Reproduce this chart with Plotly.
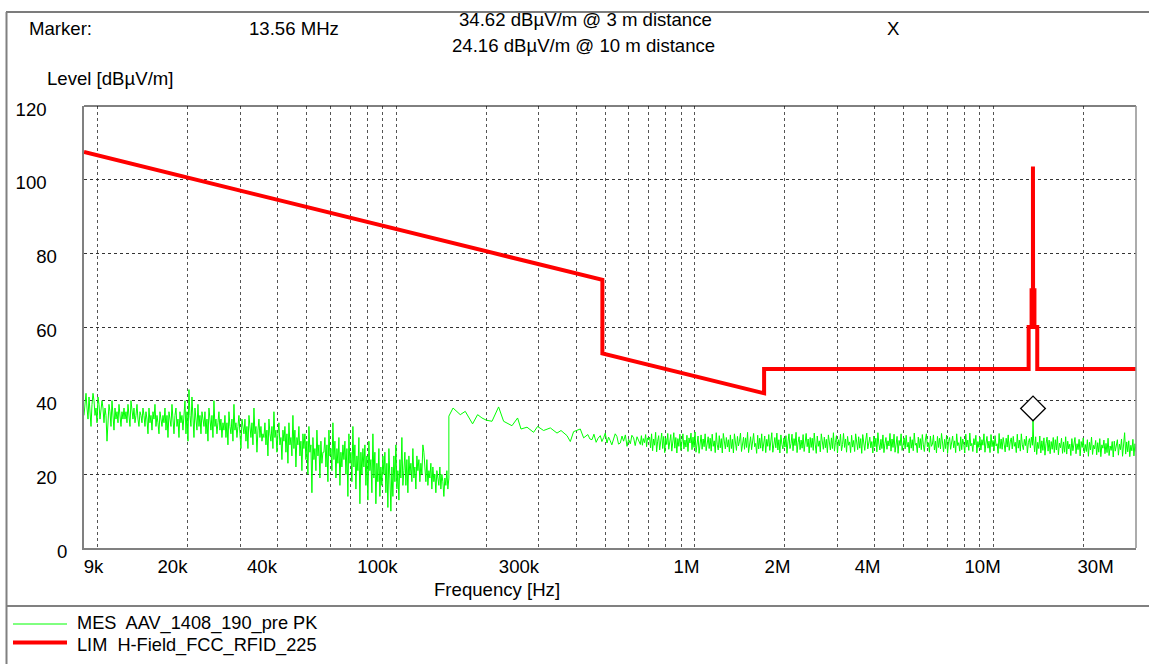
import numpy as np
import plotly.graph_objects as go

# ---------------- data ----------------
# Limit line H-Field_FCC_RFID_225 (frequency in Hz, level in dBuV/m)
lim_freq = [9e3, 490e3, 490e3, 1.705e6, 1.705e6, 13.11e6, 13.11e6, 13.41e6, 13.41e6,
            13.553e6, 13.553e6, 13.567e6, 13.567e6, 13.71e6, 13.71e6, 14.01e6, 14.01e6, 30e6]
lim_level = [107.5, 72.8, 52.8, 42.0, 48.6, 48.6, 60.0, 60.0, 70.0,
             70.0, 103.6, 103.6, 70.0, 70.0, 60.0, 60.0, 48.6, 48.6]

# Measurement trace, band 1 (9 kHz - 150 kHz sweep)
band1_start, band1_stop = 9e3, 150e3
band1_level = [
    36,40,42,38,35,41,37,33,39,42,40,36,38,34,41,39,35,37,40,38,
    34,38,36,29,35,39,37,33,40,36,32,38,35,37,34,39,36,33,37,35,
    38,35,37,34,39,36,33,40,37,35,38,34,36,39,35,33,37,36,34,38,
    36,33,37,35,31,38,34,36,32,37,35,39,33,36,34,31,37,35,33,36,
    34,38,32,36,30,37,35,33,39,34,31,36,38,33,35,30,37,34,36,32,
    35,40,31,37,29,43,36,33,41,34,30,38,35,32,39,33,36,31,37,34,
    33,37,31,35,29,38,34,32,36,30,40,33,35,31,34,37,32,35,30,34,
    32,36,30,34,28,37,33,31,35,29,39,32,34,30,33,36,31,27,35,32,
    31,35,29,33,27,36,32,30,34,28,38,31,33,26,32,35,30,33,29,31,
    30,34,28,32,25,35,31,29,33,27,37,30,32,26,31,34,28,30,24,32,
    29,33,26,31,23,34,28,30,25,36,27,32,22,30,28,33,25,29,21,31,
    27,31,24,29,20,33,26,28,15,30,24,27,21,32,25,28,19,29,23,26,
    26,30,22,28,18,32,25,27,21,34,24,29,19,27,23,30,17,26,22,28,
    24,29,20,27,14,31,23,26,18,33,22,28,16,25,21,30,12,26,20,27,
    22,28,17,25,13,29,21,24,15,31,19,26,12,23,18,27,14,22,17,25,
    20,26,15,23,11,27,19,10,22,14,25,18,28,16,21,13,24,19,30,17,
    21,26,17,24,15,25,20,23,18,27,19,22,16,25,21,24,18,23,20,28,
    26,22,18,24,17,21,19,23,16,22,18,20,15,21,19,17,22,16,20,18,14,19,17,21,16,19,
]

# Measurement trace, band 2 low part (150 kHz - 700 kHz), frequency in kHz
band2a_freq_khz = [150, 154.9, 163.8, 170.2, 180.1, 187.2, 193.6, 200.2, 209.2, 220.1,
                   228.8, 244.0, 254.8, 261.6, 274.0, 288.3, 297.3, 311.4, 328.0, 345.3,
                   356.2, 373.0, 382.6, 392.5, 413.3, 424.0, 438.0, 445.0, 452.3, 459.0,
                   467.0, 474.0, 482.2, 488.0, 495.0, 501.0, 507.7, 514.0, 520.0, 527.0,
                   534.2, 541.0, 548.0, 555.0, 562.6, 570.0, 577.0, 585.0, 592.5, 600.0,
                   608.0, 615.0, 623.4, 631.0, 640.0, 648.0, 656.5, 662.0, 667.0, 672.0,
                   678.0, 684.0, 689.0, 694.0, 699.8]
band2a_level = [35.8, 38.0, 36.2, 37.1, 33.7, 36.2, 35.3, 34.7, 34.4, 38.3,
                34.4, 33.2, 35.3, 32.3, 32.8, 31.4, 33.0, 31.9, 32.6, 31.2,
                31.9, 30.5, 28.9, 31.6, 32.3, 29.9, 30.8, 29.6, 29.4, 30.9,
                28.7, 29.8, 30.5, 28.9, 30.0, 31.2, 28.5, 30.1, 29.2, 28.0,
                29.6, 31.0, 30.3, 28.2, 28.5, 30.4, 29.0, 30.7, 27.6, 29.5,
                28.3, 30.6, 29.9, 27.8, 30.2, 29.0, 28.1, 30.5, 27.9, 29.7,
                28.6, 30.8, 27.5, 29.9, 29.4]

# Measurement trace, band 2 (705 kHz - 13.5 MHz sweep)
band2b_start, band2b_stop = 705e3, 13.5e6
band2b_level = [
    30.1,27.2,31.0,26.4,29.6,27.9,31.4,26.1,29.0,30.5,26.6,28.4,31.2,27.0,30.3,25.9,29.8,28.1,31.1,26.8,
    29.4,30.8,26.3,28.9,31.3,27.1,30.0,25.8,29.7,27.6,30.9,26.5,28.7,31.0,26.9,29.3,27.4,30.6,26.2,29.9,
    28.5,31.2,26.7,30.1,27.3,31.5,26.0,29.2,30.4,25.7,28.8,30.7,26.8,29.6,27.5,31.0,26.4,28.9,30.2,27.0,
    29.8,26.3,30.9,27.6,29.1,25.9,31.3,28.0,26.6,30.5,27.2,29.7,25.8,31.1,28.3,26.9,30.0,27.4,29.4,26.1,
    30.7,27.0,29.5,25.8,31.0,28.2,26.5,30.3,27.7,29.0,31.2,26.2,28.6,30.1,26.8,29.9,27.3,31.4,25.9,28.8,
    30.2,26.7,29.3,31.1,27.5,28.4,25.7,30.6,26.9,29.8,27.1,31.0,26.3,28.7,30.4,25.9,29.5,27.6,30.8,26.5,
    29.1,31.3,26.0,28.5,30.0,27.2,31.2,26.6,29.4,25.8,30.7,28.1,26.9,29.9,27.4,30.5,25.7,28.8,31.0,27.0,
    28.3,30.9,26.4,29.7,27.8,31.4,25.9,28.6,30.2,26.7,29.3,27.1,30.8,26.2,28.9,31.1,27.5,29.6,25.8,30.0,
    27.3,29.8,26.5,31.2,28.0,25.7,30.4,27.6,29.1,26.1,31.0,28.4,26.8,30.1,27.2,29.5,25.9,30.7,28.2,26.6,
    29.9,27.0,31.3,26.3,28.7,30.5,25.8,29.4,27.7,30.9,26.4,28.1,31.1,27.3,29.6,26.0,30.3,27.9,28.8,25.9,
    30.6,27.4,29.2,26.2,31.0,28.5,26.7,30.2,27.1,29.7,25.7,30.8,28.0,26.5,29.3,31.2,26.9,28.6,30.1,27.2,
    28.9,25.8,30.4,27.5,29.8,26.1,31.3,28.2,26.6,29.5,27.0,30.7,25.9,28.4,30.0,26.8,29.1,27.7,31.1,26.3,
    29.6,27.3,30.9,26.0,28.8,30.3,25.7,29.2,27.8,31.0,26.5,28.3,29.9,26.9,30.6,27.4,28.7,25.8,30.2,27.1,
    29.4,26.4,31.2,27.9,28.5,25.9,30.1,27.2,29.7,26.7,30.8,28.0,26.2,29.3,31.0,27.5,28.6,26.0,30.4,27.6,
    28.2,30.7,26.6,29.0,25.8,30.3,27.3,29.8,26.9,31.1,28.4,26.1,29.5,27.0,30.6,25.7,28.9,30.0,26.8,28.7,
    30.4,27.2,29.1,25.9,31.0,27.8,28.6,26.3,30.2,26.7,29.6,28.1,25.8,30.9,27.4,29.3,26.5,31.2,27.7,28.4,
    26.2,29.7,28.0,30.6,25.8,28.9,27.3,30.1,26.6,29.4,27.9,31.0,26.0,28.5,30.3,27.1,29.0,25.9,30.8,27.5,
    29.2,26.4,30.5,27.7,28.3,25.7,31.1,27.0,29.6,26.8,30.0,28.2,26.1,29.8,27.4,30.7,26.5,28.8,29.9,26.9,
    30.3,27.6,28.7,25.9,30.9,27.1,29.3,26.3,31.0,28.0,26.7,29.5,27.8,30.4,25.8,28.6,29.7,27.2,30.1,27.9,
]

# Marker (RFID carrier)
marker_freq = 13.56e6
marker_level_3m = 34.62
marker_level_10m = 24.16

# Measurement trace, band 2 (13.62 MHz - 30 MHz sweep)
band2c_start, band2c_stop = 13.62e6, 30e6
band2c_level = [
    29.6,26.1,30.2,25.4,28.7,27.0,30.4,25.8,29.1,26.5,29.9,25.2,28.4,30.1,26.3,29.3,25.6,28.9,26.8,30.0,
    25.9,29.4,26.6,30.3,25.3,28.5,27.2,29.8,25.7,28.8,26.0,30.2,25.5,29.0,26.9,28.2,25.1,29.7,26.4,28.6,
    30.0,25.6,28.3,26.7,29.5,25.0,28.9,27.3,29.9,25.8,28.1,26.2,29.4,24.9,28.7,26.6,30.1,25.4,27.9,26.9,
    29.2,25.3,28.6,26.0,29.7,24.8,28.0,27.1,29.3,25.6,28.4,25.9,29.8,25.1,27.7,26.5,28.9,24.7,29.0,26.3,
    27.5,29.4,25.2,28.2,26.7,29.6,24.9,28.5,31.3,25.5,28.8,26.1,29.1,24.8,27.9,26.4,29.5,25.0,28.3,26.2,
]

# Axis tick labels and grid
x_tick_text = ["9k", "20k", "40k", "100k", "300k", "1M", "2M", "4M", "10M", "30M"]
x_tick_pos = [9.68e3, 17.8e3, 35.5e3, 86.5e3, 257.6e3, 937e3, 1.89e6, 3.79e6, 9.19e6, 21.96e6]
x_grid = [m * 10 ** e for e in range(4, 8) for m in range(1, 10) if m * 10 ** e < 30e6]
y_ticks = [0, 20, 40, 60, 80, 100, 120]

trace_name = "MES\u00a0 AAV_1408_190_pre PK"
limit_name = "LIM\u00a0 H-Field_FCC_RFID_225"

# ---------------- build the trace ----------------
freq = np.concatenate([
    np.geomspace(band1_start, band1_stop, len(band1_level)),
    np.array(band2a_freq_khz) * 1e3,
    np.geomspace(band2b_start, band2b_stop, len(band2b_level)),
    [marker_freq],
    np.geomspace(band2c_start, band2c_stop, len(band2c_level)),
])
level = np.concatenate([band1_level, band2a_level, band2b_level, [marker_level_3m], band2c_level])

GREEN = "#00ff00"
RED = "#ff0000"
FONT = "Liberation Sans, Arial, sans-serif"
FS = 18.6

fig = go.Figure()
fig.add_trace(go.Scatter(x=freq, y=level, mode="lines", name=trace_name,
                         line=dict(color=GREEN, width=1), hoverinfo="skip"))
fig.add_trace(go.Scatter(x=lim_freq, y=lim_level, mode="lines", name=limit_name,
                         line=dict(color=RED, width=4)))
fig.add_trace(go.Scatter(x=[marker_freq], y=[marker_level_3m], mode="markers",
                         marker=dict(symbol="diamond", size=19, color="white",
                                     angle=180, standoff=12,
                                     line=dict(color="black", width=1.3))))

W, H = 1149, 664
L, R, T, B = 84, 13, 106, 116
PW, PH = W - L - R, H - T - B


def px(x):
    return (x - L) / PW


def py(y):
    return 1 - (y - T) / PH


fig.update_layout(
    width=W, height=H, showlegend=False,
    margin=dict(l=L, r=R, t=T, b=B),
    paper_bgcolor="white", plot_bgcolor="white",
    font=dict(family=FONT, size=FS, color="black"),
    xaxis=dict(type="log", range=[np.log10(9e3), np.log10(30e6)],
               tickmode="array", tickvals=x_tick_pos, ticktext=x_tick_text,
               showgrid=False, zeroline=False, ticks="",
               showline=True, linecolor="#808080", linewidth=2,
               ticklabelstandoff=1,
               minor=dict(tickmode="array", tickvals=x_grid, showgrid=True,
                          gridcolor="#555555", griddash="dot", gridwidth=1, ticks="")),
    yaxis=dict(range=[0, 120], tickmode="array", tickvals=y_ticks,
               ticktext=[str(v) + "\u2007" * (len(str(v)) - 1) for v in y_ticks],
               showgrid=True, gridcolor="#333333", griddash="dot", gridwidth=1,
               zeroline=False, ticks="", showline=True, linecolor="#808080", linewidth=2,
               ticklabelstandoff=11, ticklabelshift=3),
)

ann = []


def text(s, x, y, anchor="left", size=FS):
    ann.append(dict(text=s, x=px(x), y=py(y), xref="paper", yref="paper",
                    xanchor=anchor, yanchor="middle", showarrow=False,
                    font=dict(family=FONT, size=size, color="black")))


text("Marker:", 27, 29)
text(f"{marker_freq / 1e6:.2f} MHz", 247, 29)
text(f"{marker_level_3m:.2f} dBµV/m @ 3 m distance", 585, 19, "center")
text(f"{marker_level_10m:.2f} dBµV/m @ 10 m distance", 583, 45, "center")
text("X", 893, 29, "center")
text("Level [dBµV/m]", 45, 78)
text("Frequency [Hz]", 497, 589, "center")
text(trace_name, 75, 623.5, size=18.2)
text(limit_name, 75, 645, size=18.2)
fig.update_layout(annotations=ann)

shapes = []


def hline(x0, x1, y, color, width):
    shapes.append(dict(type="line", xref="paper", yref="paper", x0=px(x0), x1=px(x1),
                       y0=py(y), y1=py(y), line=dict(color=color, width=width)))


def vline(x, y0, y1, color, width):
    shapes.append(dict(type="line", xref="paper", yref="paper", x0=px(x), x1=px(x),
                       y0=py(y0), y1=py(y1), line=dict(color=color, width=width)))


# outer frame
hline(6, 1149, 12, "#505050", 1.5)
vline(6.5, 12, 664, "#808080", 2)
hline(6, 1149, 606, "#808080", 2)
# plot top / right border
hline(L, L + PW, T, "black", 1)
vline(L + PW, T, T + PH, "#909090", 1.5)
# legend keys
hline(13, 67, 624, GREEN, 1)
hline(13, 67, 642.5, RED, 4)
fig.update_layout(shapes=shapes)

fig.write_html("out.html", config={"displayModeBar": False},
               post_script="document.body.style.margin='0px';")
